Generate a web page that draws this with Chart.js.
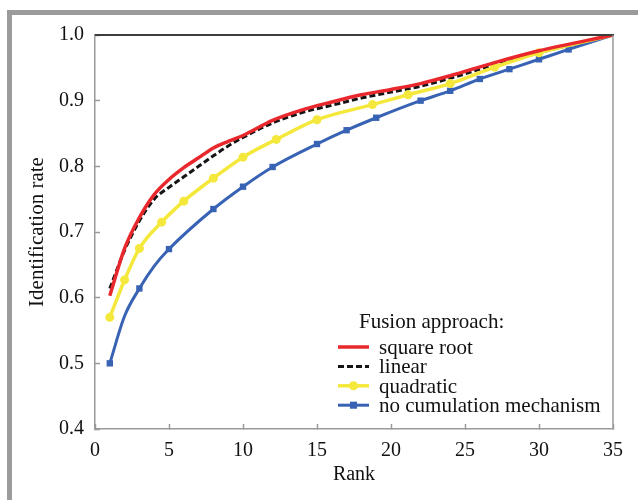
<!DOCTYPE html>
<html><head><meta charset="utf-8">
<script src="https://cdn.jsdelivr.net/npm/chart.js@4"></script>
<style>html,body{margin:0;padding:0;background:#fff}#wrap{width:638px;height:500px;position:relative}</style>
</head><body><div id="wrap"><canvas id="c" width="638" height="500"></canvas></div>
<script>
// ---- data ----
const seriesLabels = ['square root', 'linear', 'quadratic', 'no cumulation mechanism'];
const legendTitle = 'Fusion approach:';
const xTitle = 'Rank';
const yTitle = 'Identification rate';
const xTickValues = [0, 5, 10, 15, 20, 25, 30, 35];
const yTickValues = [0.4, 0.5, 0.6, 0.7, 0.8, 0.9, 1.0];

const sqrtRanks = [1, 2, 3, 4, 5, 6, 7, 8, 9, 10, 12, 14, 16, 18, 20, 22, 24, 27, 30, 35];
const sqrtRates = [0.603, 0.675, 0.722, 0.757, 0.780, 0.798, 0.813, 0.828, 0.838, 0.847, 0.870, 0.886, 0.898, 0.909, 0.917, 0.926, 0.938, 0.958, 0.976, 1.000];

const linearRanks = [1, 2, 3, 4, 5, 6, 7, 8, 9, 10, 12, 14, 16, 18, 20, 22, 24, 27, 30, 35];
const linearRates = [0.614, 0.672, 0.717, 0.750, 0.768, 0.784, 0.800, 0.816, 0.831, 0.844, 0.866, 0.882, 0.893, 0.904, 0.913, 0.922, 0.934, 0.955, 0.973, 1.000];

const quadRanks = [1, 2, 3, 4.5, 6, 8, 10, 12.25, 15, 18.75, 21.15, 24, 27, 30, 35];
const quadRates = [0.570, 0.627, 0.675, 0.715, 0.747, 0.782, 0.814, 0.841, 0.871, 0.894, 0.909, 0.926, 0.951, 0.973, 1.000];
const quadMarkerRanks = [1, 2, 3, 4.5, 6, 8, 10, 12.25, 15, 18.75, 21.15, 24, 27, 30];

const noCumRanks = [1, 2, 3, 4, 5, 8, 10, 12, 15, 17, 19, 22, 24, 26, 28, 30, 32, 35];
const noCumRates = [0.500, 0.572, 0.614, 0.648, 0.674, 0.735, 0.769, 0.799, 0.834, 0.855, 0.874, 0.900, 0.915, 0.933, 0.948, 0.963, 0.978, 1.000];
const noCumMarkerRanks = [1, 3, 5, 8, 10, 12, 15, 17, 19, 22, 24, 26, 28, 30, 32];

// ---- helpers ----
const toPoints = (xs, ys) => xs.map((x, i) => ({x: x, y: ys[i]}));
const radii = (xs, marked, r) => xs.map(x => marked.includes(x) ? r : 0);
const SERIF = '"Liberation Serif", "Times New Roman", serif';

const framePlugin = {
  id: 'frame',
  beforeDraw(chart) {
    const ctx = chart.ctx;
    ctx.save();
    ctx.fillStyle = '#fff';
    ctx.fillRect(0, 0, chart.width, chart.height);
    ctx.fillStyle = '#9b9b9b';
    ctx.fillRect(7, 10, chart.width - 7, 5);
    ctx.fillRect(7, 10, 5, chart.height - 10);
    ctx.restore();
  },
  afterDraw(chart) {
    const ctx = chart.ctx, ca = chart.chartArea;
    ctx.save();
    ctx.lineWidth = 2;
    ctx.strokeStyle = '#3a3f3a';
    ctx.beginPath(); ctx.moveTo(ca.left, ca.top); ctx.lineTo(ca.right + 1, ca.top); ctx.stroke();
    ctx.lineWidth = 1.5;
    ctx.strokeStyle = '#9a9a9a';
    ctx.beginPath(); ctx.moveTo(ca.right, ca.top); ctx.lineTo(ca.right, ca.bottom); ctx.stroke();
    ctx.restore();
  }
};

const legendPlugin = {
  id: 'customLegend',
  afterDatasetsDraw(chart) {
    const ctx = chart.ctx, ca = chart.chartArea;
    ctx.save();
    ctx.font = '21px ' + SERIF;
    ctx.fillStyle = '#111';
    ctx.textBaseline = 'alphabetic';
    ctx.textAlign = 'left';
    ctx.fillText(legendTitle, ca.right - 254, ca.bottom - 101);
    chart.data.datasets.forEach((ds, i) => {
      const y = ca.bottom - 82 + i * 19.4;
      const x0 = ca.right - 275, x1 = ca.right - 244;
      ctx.save();
      ctx.strokeStyle = ds.borderColor;
      ctx.lineWidth = ds.borderWidth;
      ctx.setLineDash(ds.borderDash || []);
      ctx.beginPath(); ctx.moveTo(x0, y); ctx.lineTo(x1, y); ctx.stroke();
      ctx.restore();
      if (ds.legendMarker) {
        ctx.fillStyle = ds.pointBackgroundColor;
        ctx.beginPath();
        if (ds.pointStyle === 'rect') {
          const s = ds.legendMarker * Math.SQRT1_2;
          ctx.rect((x0 + x1) / 2 - s, y - s, 2 * s, 2 * s);
        } else {
          ctx.arc((x0 + x1) / 2, y, ds.legendMarker, 0, Math.PI * 2);
        }
        ctx.fill();
      }
      ctx.fillStyle = '#111';
      ctx.fillText(ds.label, ca.right - 234, y + 7);
    });
    ctx.restore();
  }
};

new Chart(document.getElementById('c'), {
  type: 'line',
  data: {
    datasets: [
      {
        label: seriesLabels[0], data: toPoints(sqrtRanks, sqrtRates),
        borderColor: '#e8282c', borderWidth: 3.5, pointRadius: 0, order: 0,
        cubicInterpolationMode: 'monotone'
      },
      {
        label: seriesLabels[1], data: toPoints(linearRanks, linearRates),
        borderColor: '#151515', borderWidth: 3, borderDash: [6, 3], pointRadius: 0, order: 3,
        cubicInterpolationMode: 'monotone'
      },
      {
        label: seriesLabels[2], data: toPoints(quadRanks, quadRates),
        borderColor: '#f5e83c', borderWidth: 3.5, pointStyle: 'circle',
        pointRadius: radii(quadRanks, quadMarkerRanks, 4.5), pointBackgroundColor: '#f5e83c',
        pointBorderWidth: 0, legendMarker: 4.5, order: 1,
        cubicInterpolationMode: 'monotone'
      },
      {
        label: seriesLabels[3], data: toPoints(noCumRanks, noCumRates),
        borderColor: '#3862b4', borderWidth: 3, pointStyle: 'rect',
        pointRadius: radii(noCumRanks, noCumMarkerRanks, 4.5), pointBackgroundColor: '#3862b4',
        pointBorderWidth: 0, legendMarker: 5, order: 2,
        cubicInterpolationMode: 'monotone'
      }
    ]
  },
  options: {
    responsive: false,
    animation: false,
    devicePixelRatio: 1,
    layout: {padding: {left: 0, top: 35, right: 21, bottom: 0}},
    plugins: {legend: {display: false}, tooltip: {enabled: false}},
    scales: {
      x: {
        type: 'linear', min: 0, max: 35,
        afterBuildTicks: s => { s.ticks = xTickValues.map(v => ({value: v})); },
        afterFit: s => { s.height = 71; },
        ticks: {font: {family: SERIF, size: 20}, color: '#111', padding: 15, maxRotation: 0,
                callback: v => String(v)},
        grid: {drawOnChartArea: false, tickLength: -5, tickColor: '#999', tickWidth: 1.5},
        border: {color: '#9a9a9a', width: 1.5},
        title: {display: true, text: xTitle, color: '#111', font: {family: SERIF, size: 20},
                padding: {top: 0, bottom: 13}}
      },
      y: {
        type: 'linear', min: 0.4, max: 1.0,
        afterBuildTicks: s => { s.ticks = yTickValues.map(v => ({value: v})); },
        afterFit: s => { s.width = 95; },
        ticks: {font: {family: SERIF, size: 20}, color: '#111', padding: 16,
                callback: v => Number(v).toFixed(1)},
        grid: {drawOnChartArea: false, tickLength: -5, tickColor: '#999', tickWidth: 1.5},
        border: {color: '#9a9a9a', width: 1.5},
        title: {display: true, text: yTitle, color: '#111', font: {family: SERIF, size: 21},
                padding: {top: 25, bottom: 0}}
      }
    }
  },
  plugins: [framePlugin, legendPlugin]
});
</script>
</body></html>
